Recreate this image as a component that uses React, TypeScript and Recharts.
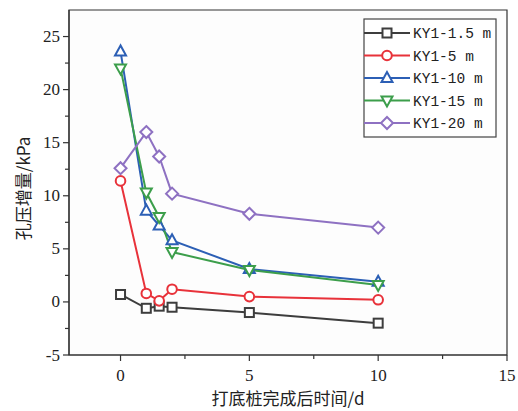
import { Label, Line, LineChart, ReferenceArea, XAxis, YAxis } from 'recharts';

// 打底桩完成后时间 (d)
const days = [0, 1, 1.5, 2, 5, 10];

// 孔压增量 (kPa) per depth
const ky1_1_5m = [0.7, -0.6, -0.4, -0.5, -1.0, -2.0];
const ky1_5m = [11.4, 0.8, 0.1, 1.2, 0.5, 0.2];
const ky1_10m = [23.6, 8.6, 7.2, 5.8, 3.1, 1.9];
const ky1_15m = [22.0, 10.3, 8.0, 4.7, 3.0, 1.6];
const ky1_20m = [12.6, 16.0, 13.7, 10.2, 8.3, 7.0];

const seriesNames = ['KY1-1.5 m', 'KY1-5 m', 'KY1-10 m', 'KY1-15 m', 'KY1-20 m'];
const seriesValues = [ky1_1_5m, ky1_5m, ky1_10m, ky1_15m, ky1_20m];

const xTicks = [0, 2.5, 5, 7.5, 10, 12.5, 15];
const xMajor = [0, 5, 10, 15];
const yTicks = [-5, -2.5, 0, 2.5, 5, 7.5, 10, 12.5, 15, 17.5, 20, 22.5, 25];
const yMajor = [-5, 0, 5, 10, 15, 20, 25];

type MarkerKind = 'square' | 'circle' | 'up' | 'down' | 'diamond';

const STYLE: { color: string; marker: MarkerKind }[] = [
  { color: '#3d3d3d', marker: 'square' },
  { color: '#e8323a', marker: 'circle' },
  { color: '#2c5fb5', marker: 'up' },
  { color: '#3c9e4b', marker: 'down' },
  { color: '#8e71c2', marker: 'diamond' },
];

const series = seriesNames.map((name, i) => ({
  name,
  ...STYLE[i],
  data: days.map((d, j) => ({ x: d, y: seriesValues[i][j] })),
}));

const SERIF = "'Liberation Serif', 'DejaVu Serif', serif";
const CJK = "'Noto Sans CJK SC', 'Noto Sans', sans-serif";
const MONO = "'Liberation Mono', 'DejaVu Sans Mono', monospace";

function Marker({ cx, cy, kind, color }: { cx: number; cy: number; kind: MarkerKind; color: string }) {
  const common = { fill: '#fff', stroke: color, strokeWidth: 2 };
  if (kind === 'square') return <rect x={cx - 4.5} y={cy - 4.5} width={9} height={9} {...common} />;
  if (kind === 'circle') return <circle cx={cx} cy={cy} r={4.8} {...common} />;
  if (kind === 'up')
    return <polygon points={`${cx},${cy - 6} ${cx - 5.5},${cy + 4} ${cx + 5.5},${cy + 4}`} {...common} />;
  if (kind === 'down')
    return <polygon points={`${cx},${cy + 6} ${cx - 5.5},${cy - 4} ${cx + 5.5},${cy - 4}`} {...common} />;
  return <polygon points={`${cx},${cy - 6} ${cx + 6},${cy} ${cx},${cy + 6} ${cx - 6},${cy}`} {...common} />;
}

function XTick(props: any) {
  const { x, y, payload } = props;
  const major = xMajor.includes(payload.value);
  return (
    <g>
      <line x1={x} y1={y} x2={x} y2={y + (major ? 6 : 4)} stroke="#333" strokeWidth={1.2} />
      {major && (
        <text x={x} y={y + 26} textAnchor="middle" style={{ fontFamily: SERIF, fontSize: 17 }} fill="#222">
          {payload.value}
        </text>
      )}
    </g>
  );
}

function YTick(props: any) {
  const { x, y, payload } = props;
  const major = yMajor.includes(payload.value);
  return (
    <g>
      <line x1={x - (major ? 6 : 4)} y1={y} x2={x} y2={y} stroke="#333" strokeWidth={1.2} />
      {major && (
        <text x={x - 9} y={y + 5.5} textAnchor="end" style={{ fontFamily: SERIF, fontSize: 17 }} fill="#222">
          {payload.value}
        </text>
      )}
    </g>
  );
}

function LegendBox() {
  const rowH = 22.5;
  return (
    <svg width={134} height={120} style={{ position: 'absolute', left: 363, top: 18 }}>
      <rect x={1} y={1} width={132} height={118} fill="#fff" stroke="#444" strokeWidth={1.2} />
      {series.map((s, i) => {
        const cy = 15 + i * rowH;
        return (
          <g key={s.name}>
            <line x1={1} y1={cy} x2={47} y2={cy} stroke={s.color} strokeWidth={2} />
            <Marker cx={24} cy={cy} kind={s.marker} color={s.color} />
            <text x={50} y={cy + 5} style={{ fontFamily: MONO, fontSize: 14.5 }} fill="#222">
              {s.name}
            </text>
          </g>
        );
      })}
    </svg>
  );
}

export default function App() {
  return (
    <div style={{ position: 'absolute', left: 0, top: 0, width: 518, height: 411, background: '#fff' }}>
      <LineChart width={518} height={411} margin={{ top: 10, right: 11, bottom: 0, left: 0 }}>
        <ReferenceArea x1={-2} x2={15} y1={-5} y2={27.5} fill="#fbfbfb" stroke="#333" strokeWidth={1.2} />
        <XAxis
          type="number"
          dataKey="x"
          domain={[-2, 15]}
          ticks={xTicks}
          allowDuplicatedCategory={false}
          tick={<XTick />}
          tickLine={false}
          tickSize={0}
          tickMargin={0}
          height={56}
          axisLine={{ stroke: '#333', strokeWidth: 1.2 }}
        >
          <Label
            content={(p: any) => {
              const vb = p.viewBox;
              return (
                <text
                  x={vb.x + vb.width / 2}
                  y={vb.y + 50}
                  textAnchor="middle"
                  style={{ fontFamily: CJK, fontSize: 17 }}
                  fill="#222"
                >
                  打底桩完成后时间/d
                </text>
              );
            }}
          />
        </XAxis>
        <YAxis
          type="number"
          dataKey="y"
          domain={[-5, 27.5]}
          ticks={yTicks}
          tick={<YTick />}
          tickLine={false}
          tickSize={0}
          tickMargin={0}
          width={69}
          axisLine={{ stroke: '#333', strokeWidth: 1.2 }}
        >
          <Label
            content={(p: any) => {
              const vb = p.viewBox;
              const cy = vb.y + vb.height / 2 + 6;
              return (
                <text
                  transform={`translate(22, ${cy}) rotate(-90)`}
                  textAnchor="middle"
                  dominantBaseline="central"
                  style={{ fontFamily: CJK, fontSize: 17 }}
                  fill="#222"
                >
                  孔压增量/kPa
                </text>
              );
            }}
          />
        </YAxis>
        {series.map((s) => (
          <Line
            key={s.name}
            data={s.data}
            dataKey="y"
            name={s.name}
            type="linear"
            stroke={s.color}
            strokeWidth={2}
            isAnimationActive={false}
            activeDot={false}
            dot={(p: any) => (
              <Marker key={`${s.name}-${p.index}`} cx={p.cx} cy={p.cy} kind={s.marker} color={s.color} />
            )}
          />
        ))}
      </LineChart>
      <LegendBox />
    </div>
  );
}
